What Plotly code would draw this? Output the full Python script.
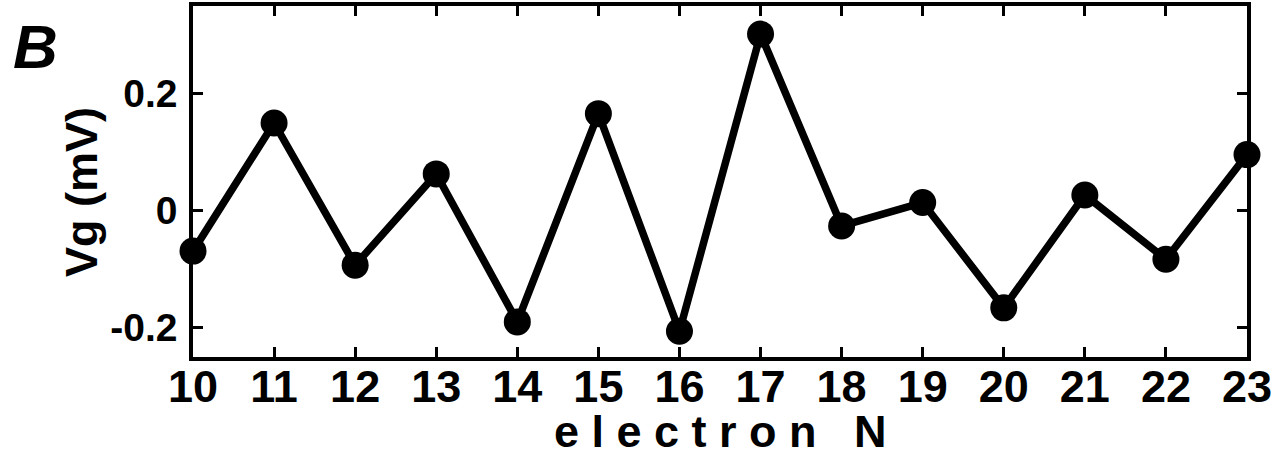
import plotly.graph_objects as go

electron_n = [10, 11, 12, 13, 14, 15, 16, 17, 18, 19, 20, 21, 22, 23]
vg_mv = [-0.069, 0.150, -0.093, 0.063, -0.190, 0.166, -0.206,
         0.302, -0.026, 0.014, -0.166, 0.027, -0.083, 0.096]
x_ticks = list(range(10, 24))
y_ticks = [-0.2, 0, 0.2]
y_tick_labels = ["-0.2", "0", "0.2"]

FONT = "Liberation Sans, Arial, sans-serif"

fig = go.Figure()
fig.add_trace(go.Scatter(
    x=electron_n, y=vg_mv, mode="lines+markers",
    line=dict(color="black", width=7.5),
    marker=dict(color="black", size=27),
    cliponaxis=False, showlegend=False,
))

fig.update_layout(
    width=1276, height=456,
    margin=dict(l=193, r=29, t=6, b=99),
    paper_bgcolor="white", plot_bgcolor="white",
    font=dict(family=FONT, color="black", weight="bold"),
    xaxis=dict(
        range=[10, 23], tickvals=x_ticks,
        ticks="inside", ticklen=10, tickwidth=3, tickcolor="black",
        showline=True, linecolor="black", linewidth=3.5, mirror="ticks",
        showgrid=False, zeroline=False, automargin=False,
        tickfont=dict(family=FONT, size=45, color="black", weight="bold"),
        ticklabelstandoff=-13,
    ),
    yaxis=dict(
        range=[-0.25, 0.35], tickvals=y_ticks, ticktext=y_tick_labels,
        ticks="inside", ticklen=10, tickwidth=3, tickcolor="black",
        showline=True, linecolor="black", linewidth=3.5, mirror="ticks",
        showgrid=False, zeroline=False, automargin=False,
        tickfont=dict(family=FONT, size=39, color="black", weight="bold"),
        ticklabelstandoff=4,
    ),
    annotations=[
        dict(
            text="<b><i>B</i></b>", xref="paper", yref="paper",
            x=-193/1054, y=1.0, xanchor="left", yanchor="top",
            xshift=11, yshift=-4, showarrow=False,
            font=dict(family=FONT, size=62, color="black"),
        ),
        dict(
            text="e l e c t r o n \u00a0 N", xref="paper", yref="paper",
            x=0.5, y=(357-439)/351, xanchor="center", yanchor="middle",
            yshift=7, showarrow=False,
            font=dict(family=FONT, size=45, color="black", weight="bold"),
        ),
        dict(
            text="Vg (mV)", xref="paper", yref="paper", textangle=-90,
            x=(81-193)/1054, y=(357-192)/351, xanchor="center", yanchor="middle",
            showarrow=False,
            font=dict(family=FONT, size=45, color="black", weight="bold"),
        ),
    ],
)

fig.write_html("out.html")
